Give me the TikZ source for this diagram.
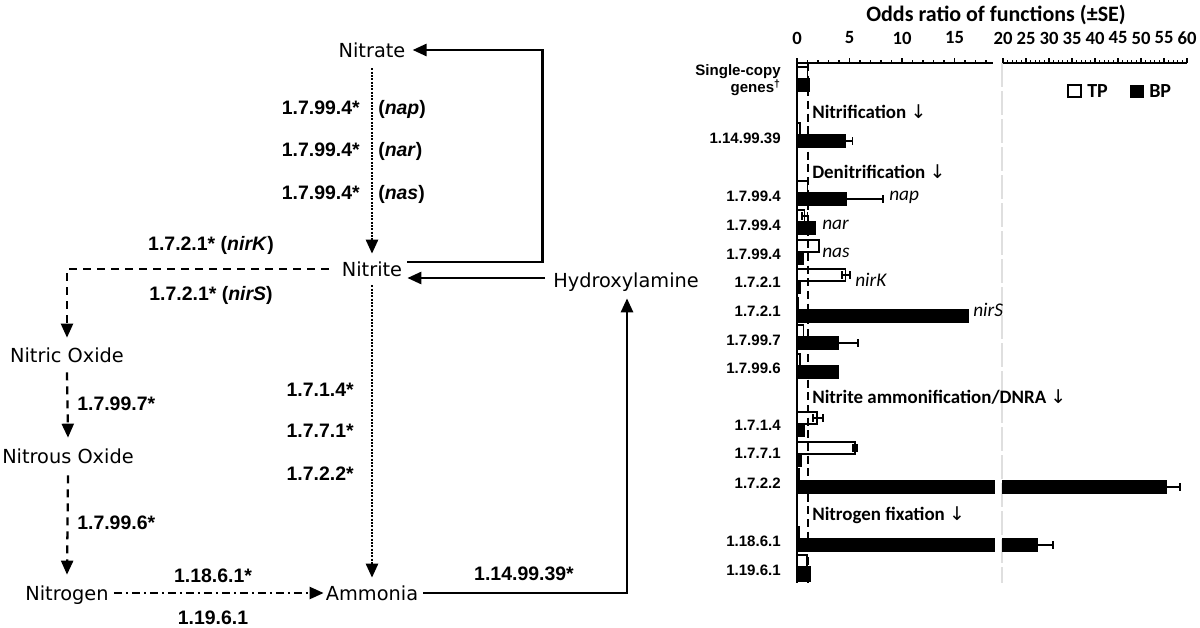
\documentclass[tikz,border=0pt]{standalone}
\usepackage{fontspec}
\setmainfont{Liberation Sans}
\newfontfamily\dvfont{DejaVu Sans}
\newfontfamily\carlfont{Carlito}
\usetikzlibrary{arrows.meta,calc}
\newcommand{\tpb}[2]{\draw[tpbar] (797,#1-12) rectangle (#2,#1);}
\newcommand{\bpb}[2]{\draw[bpbar] (797,#1) rectangle (#2,#1+12);}
\newcommand{\errb}[3]{\draw[errline] (#1,#3) -- (#2,#3); \draw[errline] (#1,#3-4) -- (#1,#3+4); \draw[errline] (#2,#3-4) -- (#2,#3+4);}
\begin{document}
\begin{tikzpicture}[x=0.75pt,y=-0.75pt,
  chem/.style={inner sep=0pt, font=\dvfont\fontsize{14.5pt}{17pt}\selectfont, text height=10.6pt, text depth=0pt},
  enz/.style={inner sep=0pt, font=\fontsize{14.6pt}{17pt}\selectfont\bfseries, text height=10.5pt, text depth=0pt},
  conn/.style={line width=2pt, -{Triangle[length=10.5pt,width=9pt]}},
  solidc/.style={conn},
  dottedc/.style={conn, line width=1.9pt, dash pattern=on 1.4pt off 1.1pt},
  dashedc/.style={conn, line width=1.7pt, dash pattern=on 6pt off 4.5pt},
  dashdotc/.style={conn, line width=1.7pt, dash pattern=on 6pt off 3pt on 1.5pt off 3pt},
  tpbar/.style={draw=black, line width=1.2pt, fill=white},
  bpbar/.style={draw=black, line width=1.2pt, fill=black},
  errline/.style={line width=1.1pt},
  rowlab/.style={inner sep=0pt, anchor=east, font=\fontsize{11.3pt}{12pt}\selectfont\bfseries, align=right},
  head/.style={inner sep=0pt, anchor=west, font=\carlfont\bfseries\fontsize{14.2pt}{16pt}\selectfont},
  gene/.style={inner sep=0pt, anchor=west, font=\carlfont\itshape\fontsize{14.5pt}{16pt}\selectfont},
  tick/.style={inner sep=0pt, font=\carlfont\bfseries\fontsize{14pt}{16pt}\selectfont},
]
\useasboundingbox (0,0) rectangle (1200,628);

% ---------------- pathway ----------------
\node[chem] (nitrate) at (372,50) {Nitrate};
\node[chem] (nitrite) at (372,269) {Nitrite};
\node[chem] (hydrox) at (626,280) {Hydroxylamine};
\node[chem] (nitric) at (67,355) {Nitric Oxide};
\node[chem] (nitrous) at (68,456) {Nitrous Oxide};
\node[chem] (nitrogen) at (67,593) {Nitrogen};
\node[chem] (ammonia) at (372,593) {Ammonia};

\draw[dottedc] ($(nitrate.south)+(0,11)$) -- ($(nitrite.north)+(0,-8)$);
\draw[solidc] ($(nitrite.east)+(5,-7)$) -| ($(nitrate.east)+(137,0)$) -- ($(nitrate.east)+(7,0)$);
\draw[solidc] ($(hydrox.west)+(-8,-2)$) -- ($(nitrite.east)+(5,9)$);
\draw[dashedc] ($(nitrite.west)+(-13,0)$) -| ($(nitric.north)+(0,-10)$);
\draw[dashedc] ($(nitric.south)+(0,10)$) -- ($(nitrous.north)+(0,-11)$);
\draw[dashedc] ($(nitrous.south)+(0,12)$) -- ($(nitrogen.north)+(0,-11)$);
\draw[dashdotc] ($(nitrogen.east)+(5,0)$) -- ($(ammonia.west)+(-2,0)$);
\draw[dottedc] ($(nitrite.south)+(0,9)$) -- ($(ammonia.north)+(0,-8)$);
\draw[solidc] ($(ammonia.east)+(5,0)$) -| ($(hydrox.south)+(1,11)$);

\node[enz, anchor=east] (e1) at (360,107) {1.7.99.4*};
\node[enz, anchor=east] (e2) at (360,149) {1.7.99.4*};
\node[enz, anchor=east] (e3) at (360,192) {1.7.99.4*};
\node[enz, anchor=west] (g1) at (378,107) {(\textit{nap})};
\node[enz, anchor=west] (g2) at (378,149) {(\textit{nar})};
\node[enz, anchor=west] (g3) at (378,192) {(\textit{nas})};
\node[enz] (e4) at (211,243) {1.7.2.1* (\textit{nirK})};
\node[enz] (e5) at (211,293) {1.7.2.1* (\textit{nirS})};
\node[enz, anchor=west] (e6) at (77,403) {1.7.99.7*};
\node[enz, anchor=west] (e7) at (77,522) {1.7.99.6*};
\node[enz, anchor=east] (e8) at (354,389) {1.7.1.4*};
\node[enz, anchor=east] (e9) at (354,430) {1.7.7.1*};
\node[enz, anchor=east] (e10) at (354,473) {1.7.2.2*};
\node[enz] (e11) at (213,575) {1.18.6.1*};
\node[enz] (e12) at (213,617) {1.19.6.1};
\node[enz] (e13) at (524,573) {1.14.99.39*};

% ---------------- chart ----------------
\node[inner sep=0pt, font=\carlfont\bfseries\fontsize{16.5pt}{18pt}\selectfont] (title) at (996,15) {Odds ratio of functions (±SE)};
\foreach \v/\x in {0/797,5/849.5,10/902,15/954.5}
  \node[tick] at (\x,38) {\v};
\foreach \v/\x in {20/1003,25/1026,30/1049,35/1072,40/1095,45/1118,50/1141,55/1164,60/1187}
  \node[tick] at (\x,38) {\v};

% grey break line
\draw[gray!25, line width=1.5pt, dash pattern=on 18pt off 3pt] (1002,63) -- (1002,583);

% bars
\tpb{79}{807.5} \bpb{79}{809.6}
\tpb{135}{800} \bpb{135}{845.3} \errb{838}{852.7}{141}
\tpb{193}{807.5} \bpb{193}{846.4} \errb{809}{883.1}{199}
\tpb{222}{804.4} \bpb{222}{814.9} \errb{802}{807.5}{216}
\tpb{252}{819} \bpb{252}{803.3}
\tpb{281}{845.3} \errb{842}{850}{275} \bpb{281}{800}
\tpb{310}{798.6} \bpb{310}{968}
\tpb{337}{803.3} \bpb{337}{838} \errb{818}{858}{343}
\tpb{366}{800} \bpb{366}{838}
\tpb{424}{817} \errb{813}{823}{418} \bpb{424}{804.4}
\tpb{454}{854.8} \errb{853}{857}{448} \bpb{454}{801.2}
\tpb{481}{799} \bpb{481}{994} \draw[bpbar] (1003,481) rectangle (1166,493); \errb{1152}{1180}{487}
\tpb{539}{799} \bpb{539}{994} \draw[bpbar] (1003,539) rectangle (1037,551); \errb{1021}{1053}{545}
\tpb{567}{807} \draw[bpbar] (797,567) rectangle (810,581);

% axes
\draw[line width=1.5pt] (797,63) -- (797,583);
\draw[line width=1.5pt, dash pattern=on 6pt off 3.5pt] (807.5,63) -- (807.5,583);
\draw[line width=1.1pt] (797,63) -- (993,63);
\foreach \i in {0,...,18} \draw[line width=1pt] ({797+10.5*\i},63) -- ({797+10.5*\i},60);
\foreach \i in {0,5,10,15} \draw[line width=1pt] ({797+10.5*\i},63) -- ({797+10.5*\i},58);
\draw[line width=1.1pt] (1003,63) -- (1187,63);
\foreach \i in {0,...,40} \draw[line width=0.8pt] ({1003+4.6*\i},63) -- ({1003+4.6*\i},60);
\foreach \i in {0,5,...,40} \draw[line width=1pt] ({1003+4.6*\i},63) -- ({1003+4.6*\i},58);

% row labels
\node[rowlab] (r0) at (781,80) {Single-copy\\genes\textsuperscript{†}};
\node[rowlab] (r1) at (781,138) {1.14.99.39};
\node[rowlab] (r2) at (781,196) {1.7.99.4};
\node[rowlab] (r3) at (781,225) {1.7.99.4};
\node[rowlab] (r4) at (781,254) {1.7.99.4};
\node[rowlab] (r5) at (781,282) {1.7.2.1};
\node[rowlab] (r6) at (781,311) {1.7.2.1};
\node[rowlab] (r7) at (781,340) {1.7.99.7};
\node[rowlab] (r8) at (781,368) {1.7.99.6};
\node[rowlab] (r9) at (781,425) {1.7.1.4};
\node[rowlab] (r10) at (781,453) {1.7.7.1};
\node[rowlab] (r11) at (781,483) {1.7.2.2};
\node[rowlab] (r12) at (781,541) {1.18.6.1};
\node[rowlab] (r13) at (781,570) {1.19.6.1};

% section headings
\node[head] (h1) at (812,112) {Nitrification {\dvfont\mdseries ↓}};
\node[head] (h2) at (812,172) {Denitrification {\dvfont\mdseries ↓}};
\node[head] (h3) at (812,397) {Nitrite ammonification/DNRA {\dvfont\mdseries ↓}};
\node[head] (h4) at (812,515) {Nitrogen fixation {\dvfont\mdseries ↓}};

% gene labels
\node[gene] (n1) at (889,197) {nap};
\node[gene] (n2) at (822,225) {nar};
\node[gene] (n3) at (822,253) {nas};
\node[gene] (n4) at (855,280) {nirK};
\node[gene] (n5) at (973,310) {nirS};

% legend
\draw[line width=1pt, fill=white] (1068,85) rectangle (1081,97);
\node[inner sep=0pt, anchor=west, font=\carlfont\bfseries\fontsize{15pt}{17pt}\selectfont] (ltp) at (1087,91) {TP};
\fill[black] (1130,85) rectangle (1144,98);
\node[inner sep=0pt, anchor=west, font=\carlfont\bfseries\fontsize{15pt}{17pt}\selectfont] (lbp) at (1149,91) {BP};
\end{tikzpicture}
\end{document}
